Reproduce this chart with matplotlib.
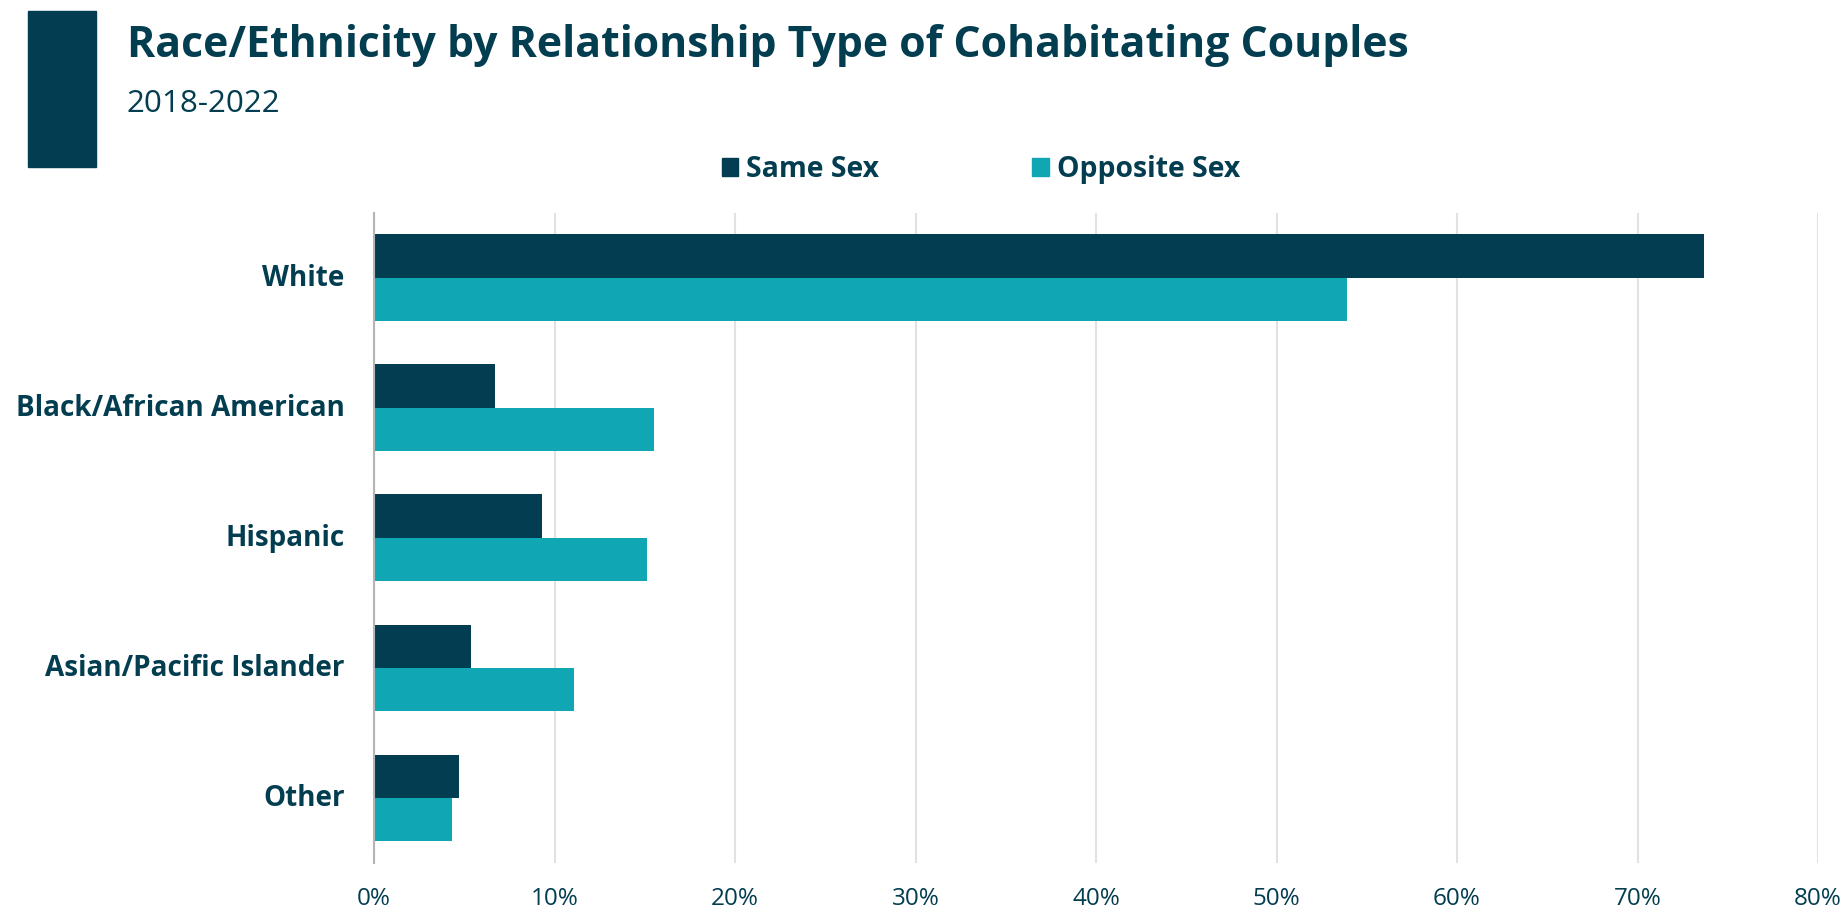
import numpy as np
import matplotlib
matplotlib.use('Agg')
import matplotlib.pyplot as plt
import matplotlib.transforms as mtransforms
from matplotlib.patches import Patch, Rectangle

# 数据
categories = ['White', 'Black/African American', 'Hispanic', 'Asian/Pacific Islander', 'Other']
same_sex = [73.7, 6.7, 9.3, 5.4, 4.7]
opposite_sex = [53.9, 15.5, 15.1, 11.1, 4.3]
xticks = [0, 10, 20, 30, 40, 50, 60, 70, 80]

dark = '#023d51'
teal = '#10a6b4'
text_c = '#033d50'

plt.rcParams['font.family'] = ['Open Sans', 'DejaVu Sans']

fig = plt.figure(figsize=(18.44, 9.07), dpi=100)
ax = fig.add_axes([374/1844, 1-863/907, (1818-374)/1844, (863-212.6)/907])

y = np.arange(len(categories))
h = 0.333
ax.barh(y - h/2, same_sex, height=h, color=dark, zorder=3)
ax.barh(y + h/2, opposite_sex, height=h, color=teal, zorder=3)

ax.set_ylim(4.5, -0.5)
ax.set_xlim(0, 80)
ax.set_xticks(xticks)
ax.set_xticklabels([f'{t}%' for t in xticks], fontsize=17.5, color=text_c)
ax.set_yticks(y)
ax.set_yticklabels(categories, fontsize=20.1, fontweight='bold', color=text_c)
ax.tick_params(axis='x', length=0, pad=17)
ax.tick_params(axis='y', length=0, pad=21)
# 标签稍微上移
up = mtransforms.ScaledTranslation(0, 3/100, fig.dpi_scale_trans)
for lab in ax.get_yticklabels():
    lab.set_transform(lab.get_transform() + up)
ax.grid(axis='x', color='#e2e2e2', linewidth=1.5, zorder=0)
for s in ['top', 'right', 'bottom']:
    ax.spines[s].set_visible(False)
ax.spines['left'].set_color('#b5b5b5')
ax.spines['left'].set_linewidth(1.5)
ax.spines['left'].set_zorder(4)

# 标题区
fig.patches.append(Rectangle((28/1844, 1-167/907), 68/1844, 156/907,
                             transform=fig.transFigure, color=dark))
fig.text(127/1844, 1-57/907, 'Race/Ethnicity by Relationship Type of Cohabitating Couples',
         fontsize=30.75, fontweight='bold', color=text_c, va='baseline')
fig.text(127/1844, 1-112/907, '2018-2022', fontsize=22.6, color=text_c, va='baseline')

# 图例
handles = [Patch(color=dark, label='Same Sex'), Patch(color=teal, label='Opposite Sex')]
leg = fig.legend(handles=handles, loc='center', bbox_to_anchor=(981/1844, 1-169.5/907),
                 ncol=2, frameon=False, handlelength=0.58, handleheight=0.58,
                 handletextpad=0.28, columnspacing=5.4,
                 prop={'size': 20.4, 'weight': 'bold'})
for t in leg.get_texts():
    t.set_color(text_c)

plt.savefig('out.png', dpi=100)
plt.close()
